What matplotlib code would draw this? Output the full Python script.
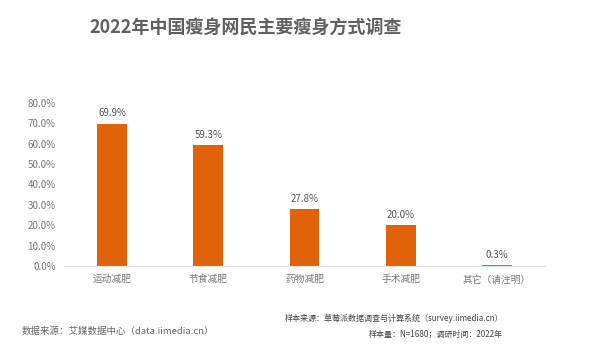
import matplotlib
matplotlib.use("Agg")
import matplotlib.pyplot as plt

plt.rcParams['font.family'] = ['Noto Sans CJK SC', 'DejaVu Sans']

categories = ["运动减肥", "节食减肥", "药物减肥", "手术减肥", "其它（请注明）"]
values = [69.9, 59.3, 27.8, 20.0, 0.3]
yticks = [0, 10, 20, 30, 40, 50, 60, 70, 80]

fig = plt.figure(figsize=(6, 3.52), dpi=100)
ax = fig.add_axes([64/600, 86/352, (545-64)/600, (266-103)/352])
bars = ax.bar(range(len(categories)), values, width=0.31, color="#E0620D")
ax.set_xlim(-0.5, 4.5)
ax.set_ylim(0, 80)
ax.set_yticks(yticks)
ax.set_yticklabels([f"{v:.1f}%" for v in yticks], fontsize=7, color="#777777")
ax.set_xticks(range(len(categories)))
ax.set_xticklabels(categories, fontsize=7, color="#777777")
ax.tick_params(axis='both', length=0, pad=6)
for s in ['top', 'right', 'left']:
    ax.spines[s].set_visible(False)
ax.spines['bottom'].set_color("#E3E3E3")
for i, v in enumerate(values):
    ax.annotate(f"{v:.1f}%", (i, v), xytext=(0, 4), textcoords="offset points",
                ha="center", va="bottom", fontsize=7, color="#555555")

fig.text(246/600, 1 - 27/352, "2022年中国瘦身网民主要瘦身方式调查", ha="center", va="center",
         fontsize=13, color="#606060", fontweight="bold")
fig.text(22/600, 1 - 331/352, "数据来源：艾媒数据中心（data.iimedia.cn）", ha="left", va="center",
         fontsize=6.8, color="#666666")
fig.text(503/600, 1 - 318/352, "样本来源：草莓派数据调查与计算系统（survey.iimedia.cn）", ha="right", va="center",
         fontsize=5.8, color="#444444")
fig.text(503/600, 1 - 334/352, "样本量：N=1680；调研时间：2022年", ha="right", va="center",
         fontsize=5.8, color="#444444")

fig.savefig("out.png", dpi=100, facecolor="white")
